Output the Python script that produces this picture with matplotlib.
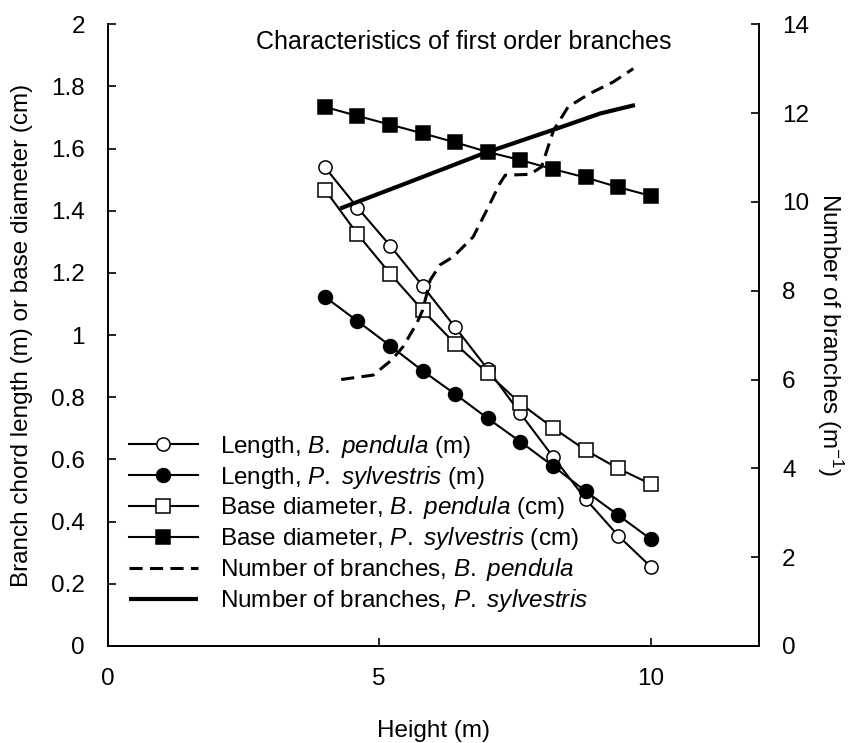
import matplotlib
matplotlib.use('Agg')
import matplotlib.pyplot as plt

plt.rcParams['font.family'] = ['Liberation Sans', 'DejaVu Sans']
plt.rcParams['mathtext.fontset'] = 'custom'
plt.rcParams['mathtext.rm'] = 'Liberation Sans'
plt.rcParams['mathtext.it'] = 'Liberation Sans:italic'
plt.rcParams['mathtext.bf'] = 'Liberation Sans:bold'

# ---- data ----
heights = [4.0, 4.6, 5.2, 5.8, 6.4, 7.0, 7.6, 8.2, 8.8, 9.4, 10.0]
length_bp = [1.54, 1.41, 1.288, 1.158, 1.025, 0.89, 0.748, 0.609, 0.473, 0.355, 0.255]
length_ps = [1.123, 1.045, 0.966, 0.885, 0.81, 0.732, 0.657, 0.579, 0.498, 0.421, 0.344]
diam_bp = [1.468, 1.325, 1.198, 1.08, 0.972, 0.877, 0.78, 0.702, 0.63, 0.571, 0.521]
diam_ps = [1.734, 1.705, 1.677, 1.649, 1.62, 1.589, 1.563, 1.534, 1.507, 1.476, 1.448]

nb_bp_x = [4.3, 4.89, 5.23, 5.44, 5.69, 5.8, 5.94, 6.12, 6.36, 6.73, 6.98, 7.22, 7.32,
           7.78, 7.99, 8.21, 8.48, 8.88, 9.31, 9.68]
nb_bp_y = [6.0, 6.10, 6.44, 6.74, 7.26, 7.56, 8.24, 8.58, 8.76, 9.21, 9.81, 10.41, 10.6,
           10.62, 10.79, 11.61, 12.14, 12.44, 12.70, 13.0]

nb_ps_x = [4.28, 5.5, 6.92, 8.27, 9.07, 9.71]
nb_ps_y = [9.85, 10.42, 11.09, 11.65, 11.99, 12.18]

labels = [r'Length, $\it{B.}$ $\it{pendula}$ (m)',
          r'Length, $\it{P.}$ $\it{sylvestris}$ (m)',
          r'Base diameter, $\it{B.}$ $\it{pendula}$ (cm)',
          r'Base diameter, $\it{P.}$ $\it{sylvestris}$ (cm)',
          r'Number of branches, $\it{B.}$ $\it{pendula}$',
          r'Number of branches, $\it{P.}$ $\it{sylvestris}$']

left_ticks = [0, 0.2, 0.4, 0.6, 0.8, 1.0, 1.2, 1.4, 1.6, 1.8, 2.0]
left_ticklabels = ['0', '0.2', '0.4', '0.6', '0.8', '1', '1.2', '1.4', '1.6', '1.8', '2']
right_ticks = [0, 2, 4, 6, 8, 10, 12, 14]
x_ticks = [0, 5, 10]

FS = 17.5

fig = plt.figure(figsize=(8.48, 7.43), dpi=100)
ax = fig.add_axes([0.1270, 0.1306, 0.7684, 0.8368])
ax2 = ax.twinx()

lw_thin = 1.5
h1, = ax.plot(heights, length_bp, '-o', color='black', lw=lw_thin, ms=9.5,
              mfc='white', mec='black', mew=1.1, label=labels[0])
h2, = ax.plot(heights, length_ps, '-o', color='black', lw=lw_thin, ms=10,
              mfc='black', mec='black', mew=1.1, label=labels[1])
h3, = ax.plot(heights, diam_bp, '-s', color='black', lw=lw_thin, ms=9.5,
              mfc='white', mec='black', mew=1.1, label=labels[2])
h4, = ax.plot(heights, diam_ps, '-s', color='black', lw=lw_thin, ms=10.5,
              mfc='black', mec='black', mew=1.1, label=labels[3])

h5, = ax2.plot(nb_bp_x, nb_bp_y, color='black', lw=2.2, dashes=(4.3, 2.4),
               label=labels[4])
h6, = ax2.plot(nb_ps_x, nb_ps_y, color='black', lw=3.0, solid_capstyle='butt',
               label=labels[5])

ax.set_xlim(0, 12)
ax.set_ylim(0, 2)
ax2.set_ylim(0, 14)
ax.set_xticks(x_ticks)
ax.set_xticklabels([str(t) for t in x_ticks])
ax.set_yticks(left_ticks)
ax.set_yticklabels(left_ticklabels)
ax2.set_yticks(right_ticks)
ax2.set_yticklabels([str(t) for t in right_ticks])

for a in (ax, ax2):
    a.spines['top'].set_visible(False)
    for s in a.spines.values():
        s.set_linewidth(1.4)
ax.spines['right'].set_visible(False)
ax2.spines['left'].set_visible(False)
ax2.spines['bottom'].set_visible(False)

ax.tick_params(axis='both', direction='in', length=5.8, width=1.2,
               labelsize=FS, pad=16)
ax.tick_params(axis='y', pad=16.5)
ax2.tick_params(axis='y', direction='in', length=5.8, width=1.2,
                labelsize=FS, pad=16.5)

ax.set_xlabel('Height (m)', fontsize=FS, va='center')
ax.xaxis.set_label_coords(0.5, -0.1365)
ax.set_ylabel('Branch chord length (m) or base diameter (cm)', fontsize=FS,
              va='center')
ax.yaxis.set_label_coords(-0.1315, 0.5)
ax2.set_ylabel(r'Number of branches (m$^{-1}$)', fontsize=FS, rotation=270,
               va='center')
ax2.yaxis.set_label_coords(1.108, 0.5)

ax2.text(0.8656, 0.9715, 'Characteristics of first order branches',
         transform=ax.transAxes, ha='right', va='center', fontsize=18)

leg = ax2.legend(handles=[h1, h2, h3, h4, h5, h6], loc='upper left',
                 bbox_to_anchor=(0.0327, 0.343), frameon=False, fontsize=FS,
                 numpoints=1, handlelength=2.83, handletextpad=0.92,
                 labelspacing=0.16, borderpad=0, borderaxespad=0)

fig.savefig('out.png', dpi=100)
